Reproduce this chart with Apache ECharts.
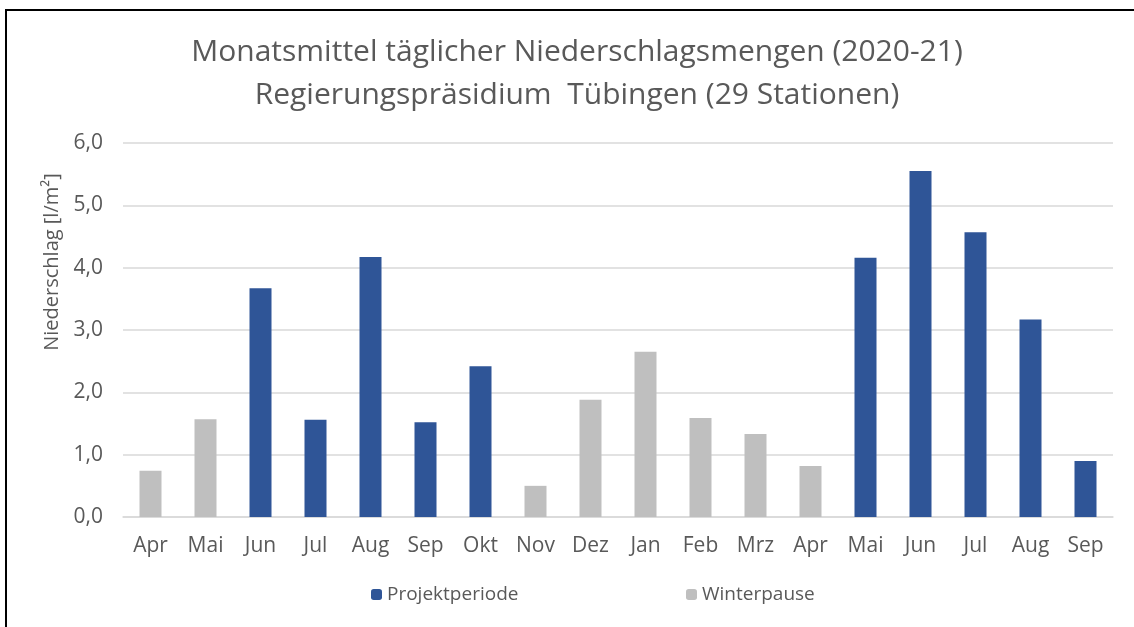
<!DOCTYPE html>
<html>
<head>
<meta charset="utf-8">
<script src="https://cdn.jsdelivr.net/npm/echarts@6/dist/echarts.min.js"></script>
<style>
  html, body { margin: 0; padding: 0; background: #fff; }
  #chart { width: 1134px; height: 627px; }
</style>
</head>
<body>
<div id="chart"></div>
<script>
// Monate April 2020 bis September 2021
const months = ['Apr', 'Mai', 'Jun', 'Jul', 'Aug', 'Sep', 'Okt', 'Nov', 'Dez', 'Jan',
  'Feb', 'Mrz', 'Apr', 'Mai', 'Jun', 'Jul', 'Aug', 'Sep'];
// Niederschlag in der Projektperiode (null = Winterpause)
const projekt = [null, null, 3.67, 1.56, 4.17, 1.52, 2.42, null, null, null,
  null, null, null, 4.16, 5.55, 4.57, 3.17, 0.90];
// Niederschlag in der Winterpause
const winter = [0.74, 1.57, null, null, null, null, null, 0.50, 1.88, 2.65,
  1.59, 1.33, 0.82, null, null, null, null, null];
const yTicks = [0, 1, 2, 3, 4, 5, 6];

const textColor = '#595959';
const font = 'Open Sans';

const chart = echarts.init(document.getElementById('chart'), null, { renderer: 'canvas' });

chart.setOption({
  backgroundColor: '#fff',
  animation: false,
  textStyle: { fontFamily: font, color: textColor },
  title: {
    text: 'Monatsmittel täglicher Niederschlagsmengen (2020-21)\nRegierungspräsidium  Tübingen (29 Stationen)',
    left: 572,
    textAlign: 'center',
    top: 26,
    textStyle: { fontFamily: font, fontSize: 30, fontWeight: 'normal', color: textColor, lineHeight: 43 }
  },
  // zwei Legenden, damit die Abstände wie im Original passen
  legend: [
    {
      data: ['Projektperiode'],
      left: 366, top: 580,
      itemWidth: 11, itemHeight: 11, itemGap: 7,
      textStyle: { fontFamily: font, fontSize: 19, color: textColor }
    },
    {
      data: ['Winterpause'],
      left: 681, top: 580,
      itemWidth: 11, itemHeight: 11, itemGap: 7,
      textStyle: { fontFamily: font, fontSize: 19, color: textColor }
    }
  ],
  grid: { left: 123, right: 21, top: 143, bottom: 110, containLabel: false },
  xAxis: {
    type: 'category',
    data: months,
    axisLine: { show: true, lineStyle: { color: '#D9D9D9', width: 1.5 } },
    axisTick: { show: false },
    axisLabel: { fontFamily: font, fontSize: 21, color: textColor, margin: 19, interval: 0 }
  },
  yAxis: {
    type: 'value',
    min: yTicks[0],
    max: yTicks[yTicks.length - 1],
    interval: 1,
    name: 'Niederschlag [l/m²]',
    nameLocation: 'middle',
    nameGap: 61,
    nameTextStyle: { fontFamily: font, fontSize: 20, color: textColor, padding: [0, 0, 0, 136] },
    axisLine: { show: false },
    axisTick: { show: false },
    axisLabel: {
      fontFamily: font, fontSize: 21, color: textColor, margin: 20,
      formatter: (v) => v.toFixed(1).replace('.', ',')
    },
    splitLine: { show: true, lineStyle: { color: '#D9D9D9', width: 1.5 } }
  },
  series: [
    {
      name: 'Projektperiode',
      type: 'bar',
      stack: 'monat',
      data: projekt,
      barWidth: '40%',
      itemStyle: { color: '#2F5597' }
    },
    {
      name: 'Winterpause',
      type: 'bar',
      stack: 'monat',
      data: winter,
      barWidth: '40%',
      itemStyle: { color: '#BFBFBF' }
    }
  ],
  // Rahmen um das Diagramm
  graphic: [
    {
      type: 'rect',
      shape: { x: 6, y: 10, width: 1140, height: 640 },
      style: { fill: 'none', stroke: '#000', lineWidth: 2 }
    }
  ]
});
</script>
</body>
</html>
